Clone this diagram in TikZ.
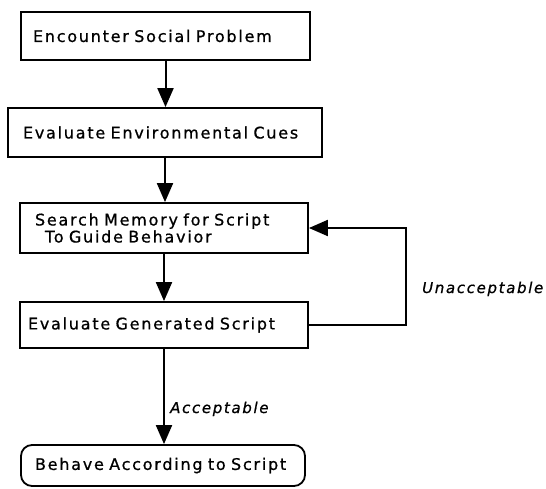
\documentclass[tikz,border=0pt]{standalone}
\usepackage{fontspec}
\setmainfont{DejaVu Sans}[LetterSpace=11, WordSpace=1.6, FakeBold=0.8]
\usetikzlibrary{arrows.meta,calc}
\newcommand{\boxfont}{\fontsize{16}{17}\selectfont}
\newcommand{\edgefont}{\fontsize{15}{17}\selectfont\itshape}
\begin{document}
\begin{tikzpicture}[x=1pt,y=-1pt,
  box/.style={draw, line width=1.8pt, align=left, inner ysep=0pt, font=\boxfont},
  flow/.style={line width=2pt, -{Triangle[length=19pt,width=16pt]}},
  edgelabel/.style={anchor=base west, inner sep=0pt, font=\edgefont}]
\useasboundingbox (0,0) rectangle (546,488);

% process steps
\node[box, minimum height=48pt, inner xsep=12pt, text width=265pt] (b1) at (165.5,36) {Encounter Social Problem};
\node[box, minimum height=49pt, inner xsep=15pt, text width=284pt] (b2) at (165,132.5) {Evaluate Environmental Cues};
\node[box, minimum height=50pt, inner xsep=15pt, text width=258pt] (b3) at (164,228) {Search Memory for Script\\\hspace*{10pt}To Guide Behavior};
\node[box, minimum height=46pt, inner xsep=8pt, text width=272pt] (b4) at (164,325) {Evaluate Generated Script};
\node[box, rounded corners=11pt, minimum height=41pt, inner xsep=14pt, text width=256pt] (b5) at (163,465.5) {Behave According to Script};

% connectors
\draw[flow] (b1.south) -- (b1.south |- b2.north);
\draw[flow] (b2.south) -- (b2.south |- b3.north);
\draw[flow] (b3.south) -- (b3.south |- b4.north);
\draw[flow] (b4.south) -- (b4.south |- b5.north);
\draw[flow] (b4.east) -| ($(b3.east)+(97,0)$) -- (b3.east);

% edge labels
\node[edgelabel] (acc) at (170,413) {Acceptable};
\node[edgelabel] (unacc) at (422,293) {Unacceptable};
\end{tikzpicture}
\end{document}
